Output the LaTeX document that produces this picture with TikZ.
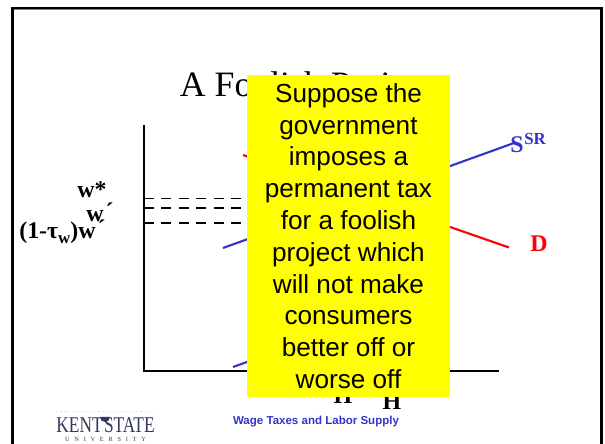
\documentclass[tikz,border=0pt]{standalone}
\usepackage{fontspec}
\setmainfont{Liberation Serif}
\setsansfont{Liberation Sans}
\newfontfamily\kentfont[FakeStretch=0.77]{Liberation Serif}
\newfontfamily\univfont[LetterSpace=75]{Liberation Serif}
\usepackage{tikz}
\usetikzlibrary{positioning}

\definecolor{curveblue}{RGB}{51,51,204}
\definecolor{kentnavy}{RGB}{50,55,95}
\definecolor{noticeyellow}{RGB}{255,255,0}
\definecolor{curvered}{RGB}{255,0,0}

\begin{document}
\begin{tikzpicture}[
    x=0.025cm, y=-0.025cm,
    axis/.style={draw=black, line width=1.6pt},
    guide/.style={draw=black, line width=1.4pt, dash pattern=on 7.1pt off 5.3pt},
    supply/.style={draw=curveblue, line width=1.5pt},
    demand/.style={draw=curvered, line width=1.5pt},
    axis_label/.style={font=\bfseries\fontsize{17}{17}\selectfont, inner sep=0pt, anchor=base},
    notice/.style={fill=noticeyellow, inner sep=0pt, minimum width=5.075cm, minimum height=8.05cm, align=center, font=\sffamily\fontsize{18.6}{22.6}\selectfont}
]
    \useasboundingbox (0,0) rectangle (605,444);

    % --- Slide frame ---
    \draw[black!50, line width=0.7pt] (12,9.5) -- (602,9.5);
    \draw[black, line width=1.5pt] (11,8) -- (603,8);
    \draw[black, line width=2.1pt] (12.5,8) -- (12.5,444);
    \draw[black, line width=2.1pt] (601.5,8) -- (601.5,444);

    % --- Title ---
    \node[anchor=base, inner sep=0pt, font=\fontsize{25.4}{25.4}\selectfont] (title) at (306,97) {A Foolish Project};

    % --- Curves (under the notice) ---
    \coordinate (D_top) at (243,155);
    \coordinate (D_end) at (509,247.5);
    \coordinate (SR_low) at (223,248);
    \coordinate (SR_end) at (514,143);
    \coordinate (LR_low) at (233,367);
    \coordinate (LR_end) at (300,343);
    \draw[demand] (D_top) -- (D_end);
    \draw[supply] (SR_low) -- (SR_end);
    \draw[supply] (LR_low) -- (LR_end);

    % --- Axes ---
    \coordinate (origin) at (144,371);
    \coordinate (y_top) at (144,125);
    \coordinate (x_end) at (499,371);
    \draw[axis] (y_top) -- (origin) -- (x_end);

    % --- Wage levels ---
    \coordinate (g1) at (144,198.5);
    \coordinate (g1e) at (300,198.5);
    \coordinate (g2) at (144,208);
    \coordinate (g2e) at (300,208);
    \coordinate (g3) at (144,223);
    \coordinate (g3e) at (300,223);
    \draw[guide] (g1) -- (g1e);
    \draw[guide] (g2) -- (g2e);
    \draw[guide] (g3) -- (g3e);

    % --- Labels ---
    \node[axis_label] (wstar) at (92,198) {w*};
    \node[axis_label] (wprime) at (100,222) {w\kern1.5pt\raisebox{2pt}{´}};
    \node[axis_label] (wtax) at (62.5,239) {(1-τ\raisebox{-3pt}{\fontsize{12}{12}\selectfont w})w\kern1.5pt\raisebox{2pt}{´}};
    \node[axis_label, text=curvered] (D) at (539,252) {D};
    \node[axis_label, text=curveblue] (S) at (517,153) {S};
    \node[anchor=base west, inner sep=0pt, text=curveblue, font=\bfseries\fontsize{12}{12}\selectfont] (SR) at (524,145) {SR};
    \node[axis_label] (H_low) at (343,404) {H};
    \node[axis_label] (H_high) at (392,410) {H};

    % --- Footer ---
    \node[anchor=base, inner sep=0pt, text=curveblue, font=\sffamily\bfseries\fontsize{8.2}{8.2}\selectfont] (footer) at (316,425) {Wage Taxes and Labor Supply};
    \draw[kentnavy!15, line width=1pt, dotted] (56,411.5) -- (155,411.5);
    \node[anchor=base, inner sep=0pt, text=kentnavy, font=\kentfont\fontsize{16}{16}\selectfont] (kent) at (105.5,433) {KENT\kern1pt STATE};
    \node[below=0.1cm of kent, inner sep=0pt, text=kentnavy, font=\univfont\fontsize{4.5}{4.5}\selectfont] (univ) {UNIVERSITY};
    \fill[kentnavy] (100,417) arc[start angle=180, end angle=0, radius=5] -- cycle;

    % --- Notice on top ---
    \node[notice] (notice) at (348.5,236) {Suppose the\\government\\imposes a\\permanent tax\\for a foolish\\project which\\will not make\\consumers\\better off or\\worse off};

\end{tikzpicture}
\end{document}
